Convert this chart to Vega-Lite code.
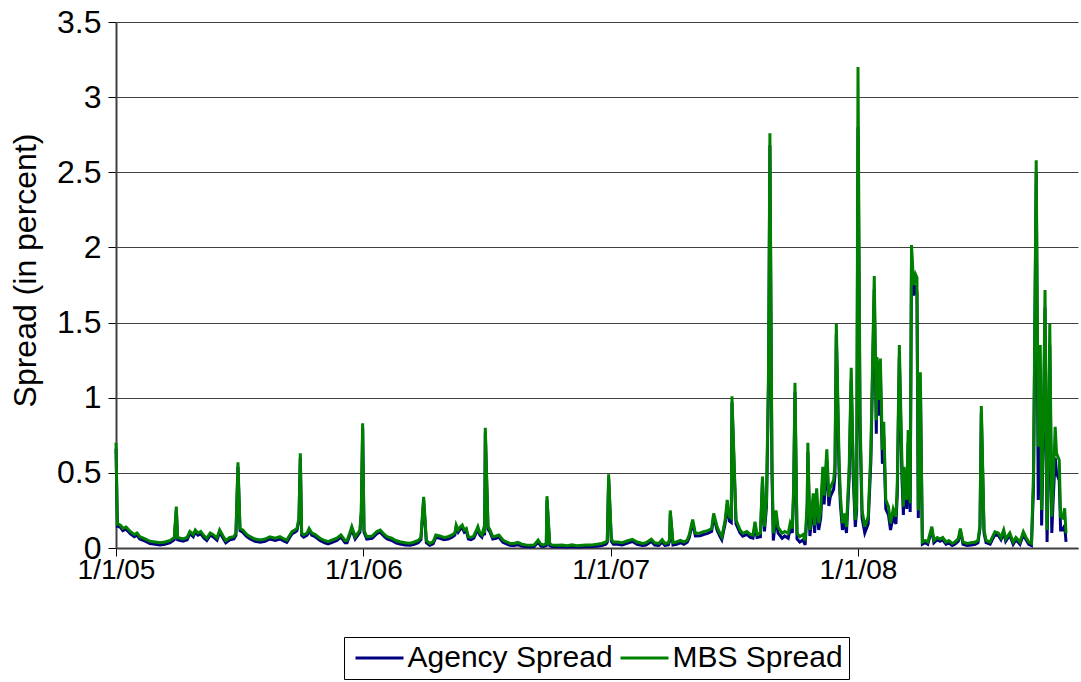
{
"$schema": "https://vega.github.io/schema/vega-lite/v6.json",
"width": 962, "height": 526,
"autosize": "none",
"padding": {"left": 116, "top": 22, "right": 3, "bottom": 134},
"background": "white",
"config": {"view": {"stroke": null}, "font": "Liberation Sans"},
"data": {"values": [
{"date":"2005-01-01","mbs":0.70,"agency":0.66},
{"date":"2005-01-03","mbs":0.16,"agency":0.145},
{"date":"2005-01-04","mbs":0.16,"agency":0.145},
{"date":"2005-01-08","mbs":0.15,"agency":0.135},
{"date":"2005-01-11","mbs":0.13,"agency":0.115},
{"date":"2005-01-16","mbs":0.14,"agency":0.125},
{"date":"2005-01-22","mbs":0.11,"agency":0.095},
{"date":"2005-01-28","mbs":0.09,"agency":0.075},
{"date":"2005-02-01","mbs":0.10,"agency":0.085},
{"date":"2005-02-05","mbs":0.075,"agency":0.06},
{"date":"2005-02-13","mbs":0.06,"agency":0.045},
{"date":"2005-02-20","mbs":0.045,"agency":0.03},
{"date":"2005-02-28","mbs":0.04,"agency":0.025},
{"date":"2005-03-07","mbs":0.035,"agency":0.02},
{"date":"2005-03-14","mbs":0.04,"agency":0.025},
{"date":"2005-03-22","mbs":0.05,"agency":0.035},
{"date":"2005-03-28","mbs":0.07,"agency":0.055},
{"date":"2005-03-31","mbs":0.275,"agency":0.25},
{"date":"2005-04-02","mbs":0.07,"agency":0.055},
{"date":"2005-04-10","mbs":0.06,"agency":0.045},
{"date":"2005-04-16","mbs":0.07,"agency":0.055},
{"date":"2005-04-20","mbs":0.11,"agency":0.095},
{"date":"2005-04-25","mbs":0.09,"agency":0.075},
{"date":"2005-04-28","mbs":0.12,"agency":0.105},
{"date":"2005-05-02","mbs":0.10,"agency":0.085},
{"date":"2005-05-06","mbs":0.11,"agency":0.095},
{"date":"2005-05-11","mbs":0.08,"agency":0.065},
{"date":"2005-05-15","mbs":0.065,"agency":0.05},
{"date":"2005-05-20","mbs":0.10,"agency":0.085},
{"date":"2005-05-24","mbs":0.09,"agency":0.075},
{"date":"2005-05-30","mbs":0.067,"agency":0.052},
{"date":"2005-06-03","mbs":0.12,"agency":0.105},
{"date":"2005-06-08","mbs":0.08,"agency":0.065},
{"date":"2005-06-12","mbs":0.05,"agency":0.035},
{"date":"2005-06-18","mbs":0.07,"agency":0.055},
{"date":"2005-06-24","mbs":0.075,"agency":0.06},
{"date":"2005-06-27","mbs":0.10,"agency":0.085},
{"date":"2005-06-30","mbs":0.57,"agency":0.54},
{"date":"2005-07-03","mbs":0.13,"agency":0.115},
{"date":"2005-07-07","mbs":0.12,"agency":0.105},
{"date":"2005-07-13","mbs":0.09,"agency":0.075},
{"date":"2005-07-18","mbs":0.075,"agency":0.06},
{"date":"2005-07-25","mbs":0.06,"agency":0.045},
{"date":"2005-08-02","mbs":0.053,"agency":0.038},
{"date":"2005-08-09","mbs":0.06,"agency":0.045},
{"date":"2005-08-16","mbs":0.075,"agency":0.06},
{"date":"2005-08-24","mbs":0.065,"agency":0.05},
{"date":"2005-08-31","mbs":0.075,"agency":0.06},
{"date":"2005-09-06","mbs":0.06,"agency":0.045},
{"date":"2005-09-10","mbs":0.053,"agency":0.038},
{"date":"2005-09-15","mbs":0.09,"agency":0.075},
{"date":"2005-09-18","mbs":0.11,"agency":0.095},
{"date":"2005-09-22","mbs":0.12,"agency":0.105},
{"date":"2005-09-25","mbs":0.13,"agency":0.115},
{"date":"2005-09-28","mbs":0.20,"agency":0.18},
{"date":"2005-09-30","mbs":0.63,"agency":0.60},
{"date":"2005-10-02","mbs":0.10,"agency":0.085},
{"date":"2005-10-05","mbs":0.087,"agency":0.072},
{"date":"2005-10-10","mbs":0.10,"agency":0.085},
{"date":"2005-10-13","mbs":0.13,"agency":0.115},
{"date":"2005-10-17","mbs":0.10,"agency":0.085},
{"date":"2005-10-22","mbs":0.09,"agency":0.075},
{"date":"2005-10-29","mbs":0.065,"agency":0.05},
{"date":"2005-11-05","mbs":0.05,"agency":0.035},
{"date":"2005-11-10","mbs":0.042,"agency":0.027},
{"date":"2005-11-17","mbs":0.055,"agency":0.04},
{"date":"2005-11-23","mbs":0.065,"agency":0.05},
{"date":"2005-11-29","mbs":0.087,"agency":0.072},
{"date":"2005-12-05","mbs":0.05,"agency":0.035},
{"date":"2005-12-08","mbs":0.05,"agency":0.035},
{"date":"2005-12-12","mbs":0.10,"agency":0.085},
{"date":"2005-12-15","mbs":0.142,"agency":0.125},
{"date":"2005-12-20","mbs":0.075,"agency":0.06},
{"date":"2005-12-24","mbs":0.10,"agency":0.085},
{"date":"2005-12-27","mbs":0.12,"agency":0.105},
{"date":"2005-12-29","mbs":0.25,"agency":0.23},
{"date":"2005-12-31","mbs":0.83,"agency":0.80},
{"date":"2006-01-02","mbs":0.12,"agency":0.105},
{"date":"2006-01-06","mbs":0.075,"agency":0.06},
{"date":"2006-01-14","mbs":0.08,"agency":0.065},
{"date":"2006-01-21","mbs":0.11,"agency":0.095},
{"date":"2006-01-26","mbs":0.12,"agency":0.105},
{"date":"2006-02-01","mbs":0.09,"agency":0.075},
{"date":"2006-02-05","mbs":0.075,"agency":0.06},
{"date":"2006-02-12","mbs":0.065,"agency":0.05},
{"date":"2006-02-18","mbs":0.05,"agency":0.035},
{"date":"2006-02-24","mbs":0.042,"agency":0.027},
{"date":"2006-03-04","mbs":0.035,"agency":0.02},
{"date":"2006-03-11","mbs":0.031,"agency":0.018},
{"date":"2006-03-17","mbs":0.04,"agency":0.025},
{"date":"2006-03-23","mbs":0.05,"agency":0.035},
{"date":"2006-03-27","mbs":0.07,"agency":0.055},
{"date":"2006-03-31","mbs":0.34,"agency":0.32},
{"date":"2006-04-04","mbs":0.05,"agency":0.035},
{"date":"2006-04-09","mbs":0.03,"agency":0.018},
{"date":"2006-04-14","mbs":0.042,"agency":0.027},
{"date":"2006-04-18","mbs":0.087,"agency":0.072},
{"date":"2006-04-24","mbs":0.08,"agency":0.065},
{"date":"2006-04-30","mbs":0.07,"agency":0.055},
{"date":"2006-05-06","mbs":0.075,"agency":0.06},
{"date":"2006-05-12","mbs":0.087,"agency":0.072},
{"date":"2006-05-16","mbs":0.10,"agency":0.085},
{"date":"2006-05-18","mbs":0.153,"agency":0.135},
{"date":"2006-05-21","mbs":0.12,"agency":0.105},
{"date":"2006-05-24","mbs":0.14,"agency":0.125},
{"date":"2006-05-27","mbs":0.153,"agency":0.135},
{"date":"2006-05-30","mbs":0.12,"agency":0.105},
{"date":"2006-06-02","mbs":0.13,"agency":0.115},
{"date":"2006-06-05","mbs":0.075,"agency":0.06},
{"date":"2006-06-09","mbs":0.07,"agency":0.055},
{"date":"2006-06-13","mbs":0.08,"agency":0.065},
{"date":"2006-06-16","mbs":0.11,"agency":0.095},
{"date":"2006-06-19","mbs":0.142,"agency":0.125},
{"date":"2006-06-22","mbs":0.10,"agency":0.085},
{"date":"2006-06-25","mbs":0.087,"agency":0.072},
{"date":"2006-06-27","mbs":0.12,"agency":0.105},
{"date":"2006-06-29","mbs":0.10,"agency":0.085},
{"date":"2006-06-30","mbs":0.80,"agency":0.77},
{"date":"2006-07-04","mbs":0.142,"agency":0.125},
{"date":"2006-07-07","mbs":0.12,"agency":0.105},
{"date":"2006-07-11","mbs":0.075,"agency":0.06},
{"date":"2006-07-16","mbs":0.08,"agency":0.065},
{"date":"2006-07-20","mbs":0.087,"agency":0.072},
{"date":"2006-07-23","mbs":0.07,"agency":0.055},
{"date":"2006-07-26","mbs":0.053,"agency":0.038},
{"date":"2006-08-01","mbs":0.04,"agency":0.025},
{"date":"2006-08-05","mbs":0.031,"agency":0.018},
{"date":"2006-08-11","mbs":0.03,"agency":0.017},
{"date":"2006-08-17","mbs":0.037,"agency":0.022},
{"date":"2006-08-23","mbs":0.025,"agency":0.012},
{"date":"2006-08-29","mbs":0.02,"agency":0.01},
{"date":"2006-09-04","mbs":0.018,"agency":0.008},
{"date":"2006-09-10","mbs":0.02,"agency":0.01},
{"date":"2006-09-16","mbs":0.053,"agency":0.038},
{"date":"2006-09-20","mbs":0.025,"agency":0.012},
{"date":"2006-09-24","mbs":0.02,"agency":0.01},
{"date":"2006-09-28","mbs":0.03,"agency":0.017},
{"date":"2006-09-29","mbs":0.345,"agency":0.32},
{"date":"2006-10-03","mbs":0.03,"agency":0.017},
{"date":"2006-10-06","mbs":0.02,"agency":0.01},
{"date":"2006-10-14","mbs":0.018,"agency":0.008},
{"date":"2006-10-21","mbs":0.02,"agency":0.01},
{"date":"2006-10-29","mbs":0.015,"agency":0.006},
{"date":"2006-11-05","mbs":0.022,"agency":0.01},
{"date":"2006-11-12","mbs":0.015,"agency":0.006},
{"date":"2006-11-20","mbs":0.018,"agency":0.008},
{"date":"2006-11-27","mbs":0.02,"agency":0.01},
{"date":"2006-12-04","mbs":0.02,"agency":0.01},
{"date":"2006-12-12","mbs":0.025,"agency":0.012},
{"date":"2006-12-19","mbs":0.03,"agency":0.017},
{"date":"2006-12-25","mbs":0.04,"agency":0.025},
{"date":"2006-12-27","mbs":0.053,"agency":0.038},
{"date":"2006-12-29","mbs":0.49,"agency":0.46},
{"date":"2007-01-02","mbs":0.06,"agency":0.045},
{"date":"2007-01-05","mbs":0.04,"agency":0.025},
{"date":"2007-01-11","mbs":0.04,"agency":0.025},
{"date":"2007-01-18","mbs":0.035,"agency":0.02},
{"date":"2007-01-24","mbs":0.045,"agency":0.03},
{"date":"2007-02-02","mbs":0.058,"agency":0.043},
{"date":"2007-02-09","mbs":0.04,"agency":0.025},
{"date":"2007-02-17","mbs":0.03,"agency":0.017},
{"date":"2007-02-22","mbs":0.035,"agency":0.02},
{"date":"2007-03-02","mbs":0.058,"agency":0.043},
{"date":"2007-03-07","mbs":0.035,"agency":0.02},
{"date":"2007-03-13","mbs":0.03,"agency":0.017},
{"date":"2007-03-18","mbs":0.055,"agency":0.04},
{"date":"2007-03-22","mbs":0.03,"agency":0.017},
{"date":"2007-03-27","mbs":0.035,"agency":0.02},
{"date":"2007-03-29","mbs":0.06,"agency":0.045},
{"date":"2007-03-30","mbs":0.25,"agency":0.23},
{"date":"2007-04-03","mbs":0.035,"agency":0.02},
{"date":"2007-04-08","mbs":0.04,"agency":0.025},
{"date":"2007-04-14","mbs":0.05,"agency":0.035},
{"date":"2007-04-19","mbs":0.04,"agency":0.025},
{"date":"2007-04-24","mbs":0.053,"agency":0.038},
{"date":"2007-04-27","mbs":0.087,"agency":0.07},
{"date":"2007-05-02","mbs":0.19,"agency":0.17},
{"date":"2007-05-06","mbs":0.098,"agency":0.08},
{"date":"2007-05-13","mbs":0.10,"agency":0.082},
{"date":"2007-05-18","mbs":0.108,"agency":0.09},
{"date":"2007-05-24","mbs":0.115,"agency":0.097},
{"date":"2007-05-30","mbs":0.13,"agency":0.11},
{"date":"2007-06-02","mbs":0.23,"agency":0.21},
{"date":"2007-06-07","mbs":0.142,"agency":0.12},
{"date":"2007-06-11","mbs":0.10,"agency":0.08},
{"date":"2007-06-14","mbs":0.075,"agency":0.055},
{"date":"2007-06-19","mbs":0.186,"agency":0.165},
{"date":"2007-06-22","mbs":0.32,"agency":0.29},
{"date":"2007-06-25","mbs":0.21,"agency":0.18},
{"date":"2007-06-28","mbs":0.20,"agency":0.17},
{"date":"2007-06-29","mbs":1.01,"agency":0.97},
{"date":"2007-07-05","mbs":0.186,"agency":0.16},
{"date":"2007-07-11","mbs":0.12,"agency":0.10},
{"date":"2007-07-15","mbs":0.098,"agency":0.078},
{"date":"2007-07-21","mbs":0.11,"agency":0.09},
{"date":"2007-07-26","mbs":0.09,"agency":0.07},
{"date":"2007-07-30","mbs":0.085,"agency":0.065},
{"date":"2007-08-02","mbs":0.175,"agency":0.15},
{"date":"2007-08-05","mbs":0.09,"agency":0.07},
{"date":"2007-08-10","mbs":0.10,"agency":0.075},
{"date":"2007-08-13","mbs":0.475,"agency":0.44},
{"date":"2007-08-16","mbs":0.142,"agency":0.11},
{"date":"2007-08-19","mbs":0.32,"agency":0.28},
{"date":"2007-08-22","mbs":1.2,"agency":1.1},
{"date":"2007-08-24","mbs":2.76,"agency":2.68},
{"date":"2007-08-27","mbs":0.6,"agency":0.5},
{"date":"2007-08-29","mbs":0.098,"agency":0.05},
{"date":"2007-09-02","mbs":0.25,"agency":0.21},
{"date":"2007-09-05","mbs":0.14,"agency":0.10},
{"date":"2007-09-11","mbs":0.098,"agency":0.065},
{"date":"2007-09-15","mbs":0.11,"agency":0.08},
{"date":"2007-09-20","mbs":0.098,"agency":0.065},
{"date":"2007-09-23","mbs":0.165,"agency":0.13},
{"date":"2007-09-26","mbs":0.13,"agency":0.10},
{"date":"2007-09-28","mbs":0.4,"agency":0.35},
{"date":"2007-09-30","mbs":1.10,"agency":1.04},
{"date":"2007-10-03","mbs":0.098,"agency":0.06},
{"date":"2007-10-07","mbs":0.075,"agency":0.04},
{"date":"2007-10-12","mbs":0.09,"agency":0.055},
{"date":"2007-10-15","mbs":0.05,"agency":0.02},
{"date":"2007-10-18","mbs":0.30,"agency":0.25},
{"date":"2007-10-19","mbs":0.70,"agency":0.64},
{"date":"2007-10-22","mbs":0.12,"agency":0.08},
{"date":"2007-10-27","mbs":0.364,"agency":0.30},
{"date":"2007-10-29","mbs":0.15,"agency":0.10},
{"date":"2007-11-01","mbs":0.397,"agency":0.33},
{"date":"2007-11-04","mbs":0.165,"agency":0.12},
{"date":"2007-11-07","mbs":0.25,"agency":0.20},
{"date":"2007-11-10","mbs":0.54,"agency":0.47},
{"date":"2007-11-12","mbs":0.35,"agency":0.29},
{"date":"2007-11-16","mbs":0.657,"agency":0.58},
{"date":"2007-11-19","mbs":0.34,"agency":0.28},
{"date":"2007-11-21","mbs":0.40,"agency":0.34},
{"date":"2007-11-26","mbs":0.452,"agency":0.39},
{"date":"2007-11-28","mbs":0.55,"agency":0.48},
{"date":"2007-11-30","mbs":1.49,"agency":1.42},
{"date":"2007-12-04","mbs":0.6,"agency":0.52},
{"date":"2007-12-06","mbs":0.35,"agency":0.29},
{"date":"2007-12-09","mbs":0.165,"agency":0.12},
{"date":"2007-12-12","mbs":0.23,"agency":0.18},
{"date":"2007-12-15","mbs":0.14,"agency":0.10},
{"date":"2007-12-19","mbs":0.54,"agency":0.47},
{"date":"2007-12-22","mbs":1.20,"agency":1.12},
{"date":"2007-12-25","mbs":0.54,"agency":0.47},
{"date":"2007-12-28","mbs":0.186,"agency":0.14},
{"date":"2007-12-30","mbs":0.3,"agency":0.25},
{"date":"2008-01-01","mbs":3.20,"agency":2.8},
{"date":"2008-01-04","mbs":0.9,"agency":0.8},
{"date":"2008-01-07","mbs":0.253,"agency":0.20},
{"date":"2008-01-11","mbs":0.142,"agency":0.10},
{"date":"2008-01-16","mbs":0.208,"agency":0.16},
{"date":"2008-01-20","mbs":0.652,"agency":0.58},
{"date":"2008-01-25","mbs":1.81,"agency":1.72},
{"date":"2008-01-28","mbs":0.85,"agency":0.76},
{"date":"2008-01-29","mbs":1.27,"agency":1.18},
{"date":"2008-01-31","mbs":0.985,"agency":0.88},
{"date":"2008-02-03","mbs":1.26,"agency":1.16},
{"date":"2008-02-06","mbs":0.652,"agency":0.56},
{"date":"2008-02-08","mbs":0.84,"agency":0.74},
{"date":"2008-02-11","mbs":0.32,"agency":0.26},
{"date":"2008-02-15","mbs":0.275,"agency":0.22},
{"date":"2008-02-18","mbs":0.165,"agency":0.12},
{"date":"2008-02-22","mbs":0.26,"agency":0.21},
{"date":"2008-02-26","mbs":0.208,"agency":0.16},
{"date":"2008-02-28","mbs":0.43,"agency":0.36},
{"date":"2008-03-02","mbs":1.35,"agency":1.27},
{"date":"2008-03-06","mbs":0.54,"agency":0.45},
{"date":"2008-03-08","mbs":0.275,"agency":0.22},
{"date":"2008-03-09","mbs":0.54,"agency":0.46},
{"date":"2008-03-13","mbs":0.32,"agency":0.26},
{"date":"2008-03-15","mbs":0.785,"agency":0.70},
{"date":"2008-03-18","mbs":0.297,"agency":0.24},
{"date":"2008-03-20","mbs":2.016,"agency":1.95},
{"date":"2008-03-23","mbs":1.75,"agency":1.68},
{"date":"2008-03-26","mbs":1.82,"agency":1.75},
{"date":"2008-03-28","mbs":1.80,"agency":1.70},
{"date":"2008-03-30","mbs":0.25,"agency":0.20},
{"date":"2008-04-02","mbs":1.17,"agency":1.10},
{"date":"2008-04-05","mbs":0.04,"agency":0.025},
{"date":"2008-04-09","mbs":0.05,"agency":0.035},
{"date":"2008-04-13","mbs":0.04,"agency":0.025},
{"date":"2008-04-19","mbs":0.142,"agency":0.125},
{"date":"2008-04-22","mbs":0.05,"agency":0.035},
{"date":"2008-04-27","mbs":0.07,"agency":0.055},
{"date":"2008-05-01","mbs":0.06,"agency":0.045},
{"date":"2008-05-05","mbs":0.07,"agency":0.055},
{"date":"2008-05-10","mbs":0.04,"agency":0.025},
{"date":"2008-05-14","mbs":0.05,"agency":0.035},
{"date":"2008-05-19","mbs":0.03,"agency":0.017},
{"date":"2008-05-23","mbs":0.04,"agency":0.025},
{"date":"2008-05-28","mbs":0.06,"agency":0.045},
{"date":"2008-05-31","mbs":0.13,"agency":0.115},
{"date":"2008-06-04","mbs":0.04,"agency":0.025},
{"date":"2008-06-10","mbs":0.03,"agency":0.017},
{"date":"2008-06-16","mbs":0.035,"agency":0.02},
{"date":"2008-06-22","mbs":0.04,"agency":0.025},
{"date":"2008-06-26","mbs":0.05,"agency":0.035},
{"date":"2008-06-29","mbs":0.15,"agency":0.13},
{"date":"2008-07-01","mbs":0.945,"agency":0.90},
{"date":"2008-07-05","mbs":0.12,"agency":0.10},
{"date":"2008-07-08","mbs":0.05,"agency":0.035},
{"date":"2008-07-14","mbs":0.04,"agency":0.025},
{"date":"2008-07-21","mbs":0.108,"agency":0.09},
{"date":"2008-07-26","mbs":0.10,"agency":0.085},
{"date":"2008-07-30","mbs":0.07,"agency":0.055},
{"date":"2008-08-03","mbs":0.12,"agency":0.10},
{"date":"2008-08-06","mbs":0.06,"agency":0.045},
{"date":"2008-08-12","mbs":0.10,"agency":0.085},
{"date":"2008-08-17","mbs":0.04,"agency":0.025},
{"date":"2008-08-21","mbs":0.07,"agency":0.055},
{"date":"2008-08-27","mbs":0.04,"agency":0.025},
{"date":"2008-09-01","mbs":0.108,"agency":0.09},
{"date":"2008-09-05","mbs":0.07,"agency":0.055},
{"date":"2008-09-09","mbs":0.04,"agency":0.025},
{"date":"2008-09-13","mbs":0.03,"agency":0.017},
{"date":"2008-09-16","mbs":0.5,"agency":0.40},
{"date":"2008-09-20","mbs":2.58,"agency":2.50},
{"date":"2008-09-23","mbs":0.674,"agency":0.32},
{"date":"2008-09-26","mbs":1.35,"agency":1.20},
{"date":"2008-09-28","mbs":0.253,"agency":0.15},
{"date":"2008-10-01","mbs":0.985,"agency":0.85},
{"date":"2008-10-03","mbs":1.717,"agency":1.60},
{"date":"2008-10-06","mbs":0.12,"agency":0.04},
{"date":"2008-10-08","mbs":0.65,"agency":0.50},
{"date":"2008-10-10","mbs":1.49,"agency":1.35},
{"date":"2008-10-13","mbs":0.208,"agency":0.10},
{"date":"2008-10-15","mbs":0.43,"agency":0.32},
{"date":"2008-10-18","mbs":0.807,"agency":0.60},
{"date":"2008-10-20","mbs":0.63,"agency":0.50},
{"date":"2008-10-24","mbs":0.585,"agency":0.45},
{"date":"2008-10-26","mbs":0.208,"agency":0.12},
{"date":"2008-10-29","mbs":0.20,"agency":0.12},
{"date":"2008-11-01","mbs":0.264,"agency":0.15},
{"date":"2008-11-03","mbs":0.098,"agency":0.04}
]},
"encoding": {
  "x": {"field": "date", "type": "temporal",
    "scale": {"type": "utc", "nice": false, "domain": [{"year": 2005, "month": 1, "date": 1, "utc": true}, {"year": 2008, "month": 11, "date": 20, "hours": 16, "utc": true}]},
    "axis": {"title": null, "grid": false, "format": "%-m/%-d/%y",
      "values": [{"year": 2005, "month": 1, "date": 1, "utc": true}, {"year": 2006, "month": 1, "date": 1, "utc": true}, {"year": 2007, "month": 1, "date": 1, "utc": true}, {"year": 2008, "month": 1, "date": 1, "utc": true}],
      "tickSize": 8, "tickColor": "#000000", "tickWidth": 1, "domainColor": "#404040", "domainWidth": 2,
      "labelFontSize": 28, "labelFont": "Liberation Sans", "labelColor": "#000000", "labelPadding": 0, "labelFlush": false, "labelOverlap": false}
  }
},
"layer": [
  {"mark": {"type": "line", "strokeWidth": 3},
   "encoding": {
     "y": {"field": "agency", "type": "quantitative",
       "scale": {"domain": [0, 3.5], "nice": false, "zero": true},
       "axis": {"title": "Spread (in percent)", "values": [0, 0.5, 1, 1.5, 2, 2.5, 3, 3.5], "format": "~g",
         "grid": true, "gridColor": "#404040", "gridWidth": 1, "tickSize": 8, "tickColor": "#000000",
         "domainColor": "#404040", "domainWidth": 2, "labelFontSize": 32, "labelFont": "Liberation Sans", "labelColor": "#000000", "labelPadding": 7,
         "titleFontSize": 32, "titleFont": "Liberation Sans", "titleFontWeight": "normal", "titleColor": "#000000", "titlePadding": 14, "titleY": 248}},
     "color": {"datum": "Agency Spread", "type": "nominal",
       "scale": {"domain": ["Agency Spread", "MBS Spread"], "range": ["#000080", "#008000"]},
       "legend": {"title": null, "orient": "none", "legendX": 228, "legendY": 615, "direction": "horizontal",
         "strokeColor": "#000000", "fillColor": "#ffffff", "padding": 6, "symbolType": "M-2,0H2", "symbolSize": 576, "symbolStrokeWidth": 3, "symbolOffset": 14.5,
         "labelFontSize": 30, "labelFont": "Liberation Sans", "labelColor": "#000000", "labelOffset": 13, "columnPadding": 1, "labelLimit": 400}}
   }},
  {"mark": {"type": "line", "strokeWidth": 3},
   "encoding": {
     "y": {"field": "mbs", "type": "quantitative", "scale": {"domain": [0, 3.5], "nice": false, "zero": true}, "axis": {"title": "Spread (in percent)"}},
     "color": {"datum": "MBS Spread", "type": "nominal"}
   }}
]
}
